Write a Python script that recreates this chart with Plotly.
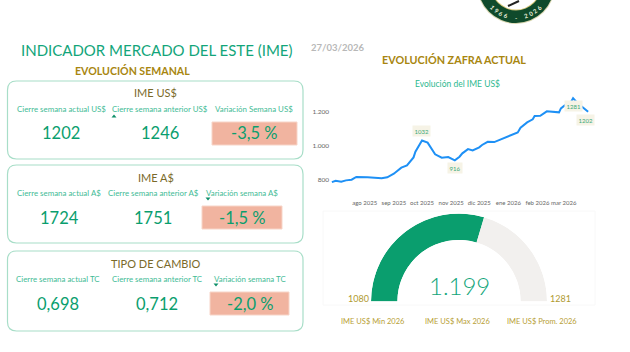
import math
import plotly.graph_objects as go

W, H = 630, 352

# ---- data ----
dates = ["2025-06-27","2025-07-01","2025-07-07","2025-07-12","2025-07-18","2025-07-23","2025-08-04",
         "2025-08-19","2025-08-25","2025-09-01","2025-09-09","2025-09-15","2025-09-22","2025-09-24",
         "2025-10-01","2025-10-07","2025-10-15","2025-10-22","2025-10-29","2025-11-05","2025-11-10",
         "2025-11-13","2025-11-19","2025-11-24","2025-12-01","2025-12-04","2025-12-10","2025-12-17",
         "2026-01-11","2026-01-14","2026-01-21","2026-01-27","2026-01-29","2026-02-04","2026-02-11",
         "2026-02-24","2026-02-26","2026-03-02","2026-03-08","2026-03-11","2026-03-16","2026-03-27"]
ime_usd = [788,796,790,798,802,818,816,810,816,837,873,886,933,967,1032,1020,951,931,935,916,937,
           957,982,974,992,1006,1025,1023,1080,1108,1139,1157,1176,1178,1204,1198,1221,1239,1251,1281,1251,1202]
month_ticks = ["2025-08-01","2025-09-01","2025-10-01","2025-11-01","2025-12-01","2026-01-01","2026-02-01","2026-03-01"]
month_labels = ["ago 2025","sep 2025","oct 2025","nov 2025","dic 2025","ene 2026","feb 2026","mar 2026"]
y_ticks = [800, 1000, 1200]
y_labels = ["800", "1.000", "1.200"]
labelled = [("2025-10-01", 1032, 10, 0), ("2025-11-05", 916, -8, 0), ("2026-03-11", 1281, -8, 0), ("2026-03-27", 1202, -8, -3)]

gauge_min, gauge_value, gauge_max = 1080, 1199, 1281

card_titles = ["IME US$", "IME A$", "TIPO DE CAMBIO"]
card_labels = [["Cierre semana actual US$", "Cierre semana anterior US$", "Variación Semana US$"],
               ["Cierre semana actual A$", "Cierre semana anterior A$", "Variación semana A$"],
               ["Cierre semana actual TC", "Cierre semana anterior TC", "Variación semana TC"]]
card_values = [["1202", "1246", "-3,5 %"], ["1724", "1751", "-1,5 %"], ["0,698", "0,712", "-2,0 %"]]
gauge_captions = ["IME US$ Min 2026", "IME US$ Max 2026", "IME US$ Prom. 2026"]

# ---- layout helpers (pixel → paper) ----
FONT = "Lato"
GREEN = "#0a9e6e"
LIGHT = "#3fbb96"
GOLD = "#a8860f"
px = lambda x: x / W
py = lambda y: 1 - y / H
shapes, annotations = [], []

def text(x, y, s, size, color, bold=False, angle=0, weight=None, family=None):
    f = dict(family=family or FONT, size=size, color=color)
    if weight:
        f["weight"] = weight
    annotations.append(dict(xref="paper", yref="paper", x=px(x), y=py(y), text=f"<b>{s}</b>" if bold else s,
                            showarrow=False, xanchor="center", yanchor="middle", textangle=angle, font=f))

def rounded(x0, y0, x1, y1, r, line):
    p = (f"M {px(x0+r)} {py(y0)} L {px(x1-r)} {py(y0)} Q {px(x1)} {py(y0)} {px(x1)} {py(y0+r)} "
         f"L {px(x1)} {py(y1-r)} Q {px(x1)} {py(y1)} {px(x1-r)} {py(y1)} "
         f"L {px(x0+r)} {py(y1)} Q {px(x0)} {py(y1)} {px(x0)} {py(y1-r)} "
         f"L {px(x0)} {py(y0+r)} Q {px(x0)} {py(y0)} {px(x0+r)} {py(y0)} Z")
    shapes.append(dict(type="path", xref="paper", yref="paper", path=p, line=dict(color=line, width=1.2)))

def rect(x0, y0, x1, y1, fill, line=None):
    shapes.append(dict(type="rect", xref="paper", yref="paper", x0=px(x0), x1=px(x1), y0=py(y0), y1=py(y1),
                       fillcolor=fill, line=dict(color=line or fill, width=1), layer="below"))

def tri(x, y, up):
    s = -1 if up else 1
    p = f"M {px(x-2.5)} {py(y-1.5*s)} L {px(x+2.5)} {py(y-1.5*s)} L {px(x)} {py(y+1.5*s)} Z"
    shapes.append(dict(type="path", xref="paper", yref="paper", path=p, fillcolor="#0f8f68", line=dict(width=0)))

def circle(cx, cy, r, fill):
    shapes.append(dict(type="circle", xref="paper", yref="paper", x0=px(cx-r), x1=px(cx+r), y0=py(cy-r), y1=py(cy+r),
                       fillcolor=fill, line=dict(width=0), layer="below"))

# ---- header ----
text(157, 50, "INDICADOR MERCADO DEL ESTE (IME)", 15, "#12a57a")
text(132, 70, "EVOLUCIÓN SEMANAL", 10.6, GOLD, bold=True)
text(337.5, 47, "27/03/2026", 9.5, "#b8b8b8", bold=True)
text(454, 59, "EVOLUCIÓN ZAFRA ACTUAL", 10.8, GOLD, bold=True)
text(457, 84, "Evolución del IME US$", 8.5, "#2db88f")

# ---- cards ----
card_boxes = [(81, 159), (165, 243), (251, 331)]
title_y = [92, 177, 263]
label_y = [109, 193, 279]
value_y = [133, 218, 304]
col_x = [[61, 160, 254], [59, 153, 242], [58, 157, 250]]
label_x = [[61, 160, 254], [59, 153, 242], [58, 157, 250]]
red_boxes = [(212, 122, 297, 145), (202, 206, 282, 229), (210, 292, 289, 315)]
tris = [(114, 116, True), (208, 199, False), (216, 285, False)]
for i in range(3):
    rounded(7.5, card_boxes[i][0], 303, card_boxes[i][1], 9, "#a8dec8")
    rect(*red_boxes[i], "#f1b4a0", "#f7d5c8")
    text(155.5, title_y[i], card_titles[i], 11, "#7a6a2a")
    tri(*tris[i])
    for j in range(3):
        text(label_x[i][j], label_y[i], card_labels[i][j], 7.9, LIGHT)
        text(col_x[i][j], value_y[i], card_values[i][j], 16.5, GREEN)

# ---- gauge ----
rect(323, 211, 595, 305, "#ffffff", "#f8f8f8")
text(459, 285, f"{gauge_value:,}".replace(",", "."), 24, "#12a57a", weight=300)
text(358, 298, str(gauge_min), 9, "#b09a30")
text(560, 298, str(gauge_max), 9, "#b09a30")
for x, s in zip([373, 457, 542], gauge_captions):
    text(x, 321, s, 7.5, "#b8a035")

# ---- logo at the top, cut by the page ----
LX, LY = 516, -15
circle(LX, LY, 39, "#d9d6b0")
circle(LX, LY, 38, "#0f4a2b")
circle(LX, LY, 25.5, "#d8c878")
circle(LX, LY, 24.5, "#ffffff")
shapes.append(dict(type="line", xref="paper", yref="paper", x0=px(508), x1=px(519), y0=py(6), y1=py(1),
                   line=dict(color="#222222", width=2)))
for k, ch in enumerate("1966 - 2026"):
    if ch == " ":
        continue
    a = (5 - k) * 9.3
    text(LX - 32 * math.sin(math.radians(a)), LY + 32 * math.cos(math.radians(a)), ch, 6, "#eef0dd", bold=True, angle=a)

# ---- traces ----
fig = go.Figure()
fig.add_trace(go.Scatter(x=dates, y=ime_usd, mode="lines", line=dict(color="#1e90f5", width=2),
                         hoverinfo="skip", showlegend=False))

span = gauge_max - gauge_min
done = (gauge_value - gauge_min) / span * 180
fig.add_trace(go.Barpolar(theta=[done / 2, (done + 180) / 2], width=[done, 180 - done], r=[1, 1],
                          marker=dict(color=[GREEN, "#f2f0ee"], line=dict(width=0)),
                          subplot="polar", showlegend=False, hoverinfo="skip"))

for d, v, ys, xs in labelled:
    annotations.append(dict(xref="x", yref="y", x=d, y=v, text=str(v), showarrow=False, yshift=ys, xshift=xs,
                            font=dict(family=FONT, size=6, color="#3aa877"), bgcolor="#f6f3e6",
                            borderpad=1.5))

fig.update_layout(
    width=W, height=H,
    margin=dict(l=0, r=0, t=0, b=0),
    paper_bgcolor="white", plot_bgcolor="white",
    separators=",.",
    showlegend=False,
    shapes=shapes,
    annotations=annotations,
    font=dict(family=FONT),
    xaxis=dict(domain=[px(330), px(590)], type="date", range=["2025-06-25", "2026-03-29"],
               tickmode="array", tickvals=month_ticks, ticktext=month_labels, showgrid=False, zeroline=False,
               showline=False, ticks="", tickangle=0, tickfont=dict(size=6, color="#666666", family=FONT), ticklabelstandoff=3),
    yaxis=dict(domain=[py(195), py(95)], range=[712, 1300], tickmode="array", tickvals=y_ticks, ticktext=y_labels,
               showgrid=False, zeroline=False, showline=False, ticks="",
               tickfont=dict(size=6.5, color="#666666", family=FONT)),
    polar=dict(domain=dict(x=[px(371), px(547)], y=[py(302), py(213)]),
               sector=[0, 180], hole=0.7, bgcolor="rgba(0,0,0,0)", bargap=0,
               radialaxis=dict(visible=False, range=[0, 1]),
               angularaxis=dict(visible=False, direction="clockwise", rotation=180)),
)

fig.write_html("out.html", config=dict(displayModeBar=False),
               post_script="document.body.style.margin='0';document.body.style.overflow='hidden';")
